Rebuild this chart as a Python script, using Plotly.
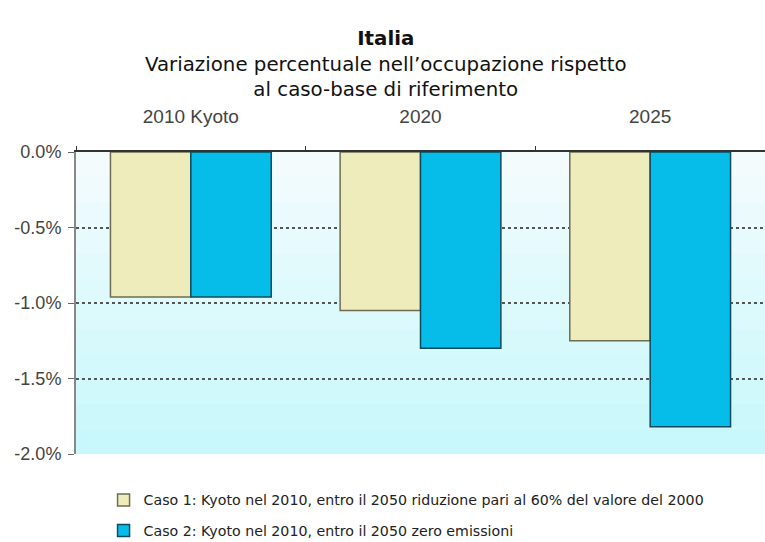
import plotly.graph_objects as go

categories = ["2010 Kyoto", "2020", "2025"]
caso1 = [-0.96, -1.05, -1.25]
caso2 = [-0.96, -1.30, -1.82]
series_names = [
    "Caso 1: Kyoto nel 2010, entro il 2050 riduzione pari al 60% del valore del 2000",
    "Caso 2: Kyoto nel 2010, entro il 2050 zero emissioni",
]
ytick_vals = [0.0, -0.5, -1.0, -1.5, -2.0]
ytick_text = ["0.0%", "-0.5%", "-1.0%", "-1.5%", "-2.0%"]
title_lines = ["<b>Italia</b>",
               "Variazione percentuale nell\u2019occupazione rispetto",
               "al caso-base di riferimento"]

fig = go.Figure()
fig.add_trace(go.Bar(
    x=categories, y=caso1, name=series_names[0], legendgroup="c1",
    marker=dict(color="#efecbb", line=dict(color="#6e6c52", width=1.5)),
))
fig.add_trace(go.Bar(
    x=categories, y=caso2, name=series_names[1], legendgroup="c2",
    marker=dict(color="#06bde9", line=dict(color="#0d4b5e", width=1.5)),
))

# background gradient bands (white-ish at top to light cyan at bottom)
n = 12
top = (0xf3, 0xfb, 0xfd)
bot = (0xc8, 0xf8, 0xfb)
shapes = []
for i in range(n):
    t = i / (n - 1)
    c = tuple(int(round(top[k] + (bot[k] - top[k]) * t)) for k in range(3))
    shapes.append(dict(
        type="rect", xref="paper", yref="paper",
        x0=0, x1=1, y0=1 - (i + 1) / n, y1=1 - i / n,
        fillcolor="rgb(%d,%d,%d)" % c, line=dict(width=0), layer="below",
    ))

fig.update_layout(
    width=765, height=542,
    margin=dict(l=76, r=0, t=152, b=88, autoexpand=False),
    paper_bgcolor="white", plot_bgcolor="#eefafd",
    shapes=shapes,
    barmode="group", bargap=0.3, bargroupgap=0.0,
    font=dict(family="DejaVu Sans", color="#222"),
    annotations=[dict(
        text="<br>".join(title_lines), showarrow=False,
        xref="paper", yref="paper", x=0.45, y=1.42,
        xanchor="center", yanchor="top", align="center",
        font=dict(family="DejaVu Sans", size=19.8, color="#111"),
    )],
    xaxis=dict(
        side="top", showgrid=False, showline=True, linecolor="#333", linewidth=1.5,
        ticks="outside", tickson="boundaries", ticklen=4, tickcolor="#333",
        ticklabelstandoff=20, automargin=False,
        tickfont=dict(family="Liberation Sans", size=19, color="#444"),
    ),
    yaxis=dict(
        range=[-2.0, 0.0], tickvals=ytick_vals, ticktext=ytick_text,
        showgrid=True, gridcolor="#555", griddash="dot", gridwidth=1.5,
        zeroline=False, showline=True, linecolor="#888", linewidth=2,
        ticks="outside", ticklen=6, tickcolor="#666", automargin=False,
        ticklabelstandoff=3,
        tickfont=dict(family="Liberation Sans", size=18, color="#444"),
    ),
    legend=dict(
        orientation="v", x=0.04, xanchor="left", y=-0.1, yanchor="top",
        font=dict(family="DejaVu Sans", size=14.2, color="#222"),
        tracegroupgap=9, bgcolor="rgba(0,0,0,0)",
    ),
)

fig.write_html("out.html", config={"displayModeBar": False},
               post_script="document.body.style.margin='0';")
